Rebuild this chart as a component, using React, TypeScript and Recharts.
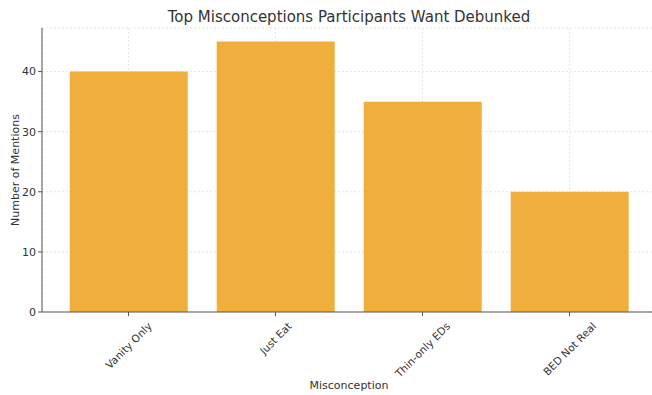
import React from "react";
import { BarChart, Bar, XAxis, YAxis, CartesianGrid } from "recharts";

const misconceptions = ["Vanity Only", "Just Eat", "Thin-only EDs", "BED Not Real"];
const mentions = [40, 45, 35, 20];
const yTicks = [0, 10, 20, 30, 40];

const data = misconceptions.map((name, i) => ({ name, mentions: mentions[i] }));

const FONT = "DejaVu Sans, sans-serif";
const TEXT = "#333333";
const TICK_FONT = 10.5;

let ctx: CanvasRenderingContext2D | null = null;
function textWidth(s: string) {
  if (!ctx) ctx = document.createElement("canvas").getContext("2d");
  if (!ctx) return s.length * 6.3;
  ctx.font = `${TICK_FONT}px DejaVu Sans`;
  return ctx.measureText(s).width;
}

// 45° labels whose rotated box is centred under the tick
function SlantTick(props: any) {
  const { x, y, payload } = props;
  const w = textWidth(payload.value);
  const h = TICK_FONT * 1.1;
  const boxH = (w + h) * Math.SQRT1_2;
  return (
    <g transform={`translate(${x},${y + 2 + boxH / 2})`}>
      <text
        transform="rotate(-45)"
        textAnchor="middle"
        dominantBaseline="central"
        fontSize={TICK_FONT}
        fontFamily={FONT}
        fill={TEXT}
      >
        {payload.value}
      </text>
    </g>
  );
}

export default function App() {
  return (
    <div style={{ position: "fixed", left: 0, top: 0, width: 652, height: 395, overflow: "hidden", background: "#fff" }}>
      <div style={{ position: "absolute", top: 8, width: 698, textAlign: "center", fontFamily: FONT, fontSize: 15, color: TEXT }}>
        Top Misconceptions Participants Want Debunked
      </div>
      <div style={{ position: "absolute", left: 349 - 100, width: 200, top: 379, textAlign: "center", fontFamily: FONT, fontSize: 11, color: TEXT }}>
        Misconception
      </div>
      <div style={{ position: "absolute", left: 15, top: 170, width: 0, height: 0 }}>
        <div style={{ transform: "translate(-50%,-50%) rotate(-90deg)", whiteSpace: "nowrap", fontFamily: FONT, fontSize: 11, color: TEXT, position: "absolute" }}>
          Number of Mentions
        </div>
      </div>
      <BarChart
        width={700}
        height={395}
        data={data}
        margin={{ top: 28, right: 44, bottom: 0, left: 2 }}
        barCategoryGap="10%"
      >
        <XAxis
          dataKey="name"
          height={83}
          padding={{ left: 13, right: 13 }}
          tick={<SlantTick />}
          tickSize={4}
          interval={0}
          stroke="#555555"
          tickLine={{ stroke: "#555555" }}
        />
        <YAxis
          domain={[0, 47.25]}
          ticks={yTicks}
          width={40}
          tickSize={4}
          axisLine={{ stroke: "#555555" }}
          tickLine={{ stroke: "#555555" }}
          tick={{ fontSize: 11, fill: TEXT, fontFamily: FONT }}
        />
        <Bar dataKey="mentions" fill="#F0AF3C" isAnimationActive={false} />
        <CartesianGrid stroke="rgba(0,0,0,0.1)" strokeDasharray="2 2" />
      </BarChart>
    </div>
  );
}
